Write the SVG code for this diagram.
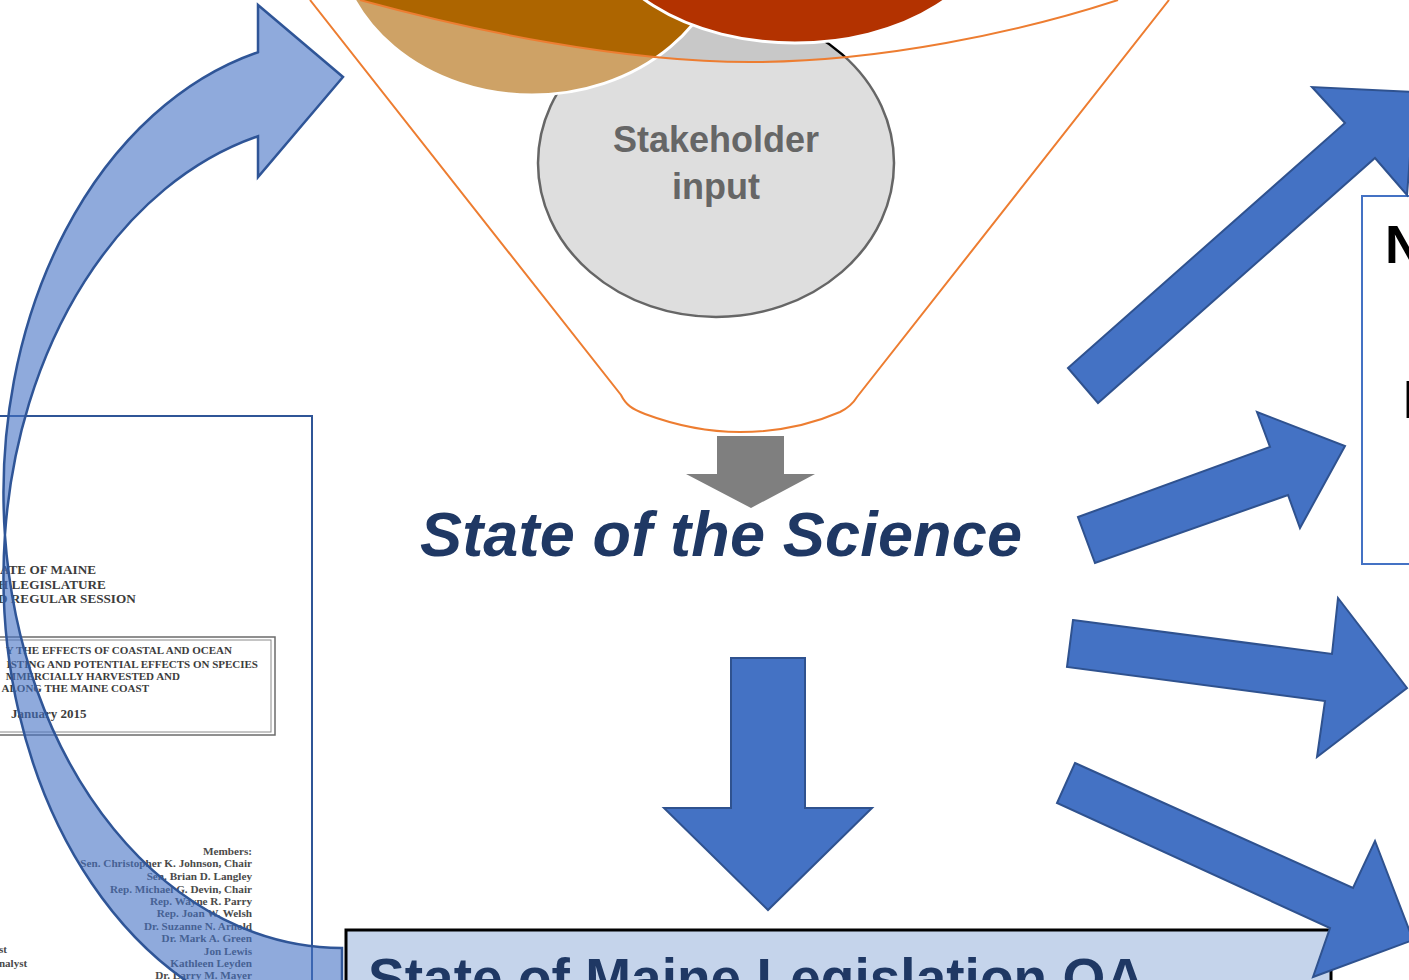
<svg xmlns="http://www.w3.org/2000/svg" width="1409" height="980" viewBox="0 0 1409 980">
<style>
.scan{font-family:"Liberation Serif","Times New Roman",serif;font-weight:bold;fill:#3c3c3c}
.blue{fill:#4472C4;stroke:#2F528F;stroke-width:2;stroke-linejoin:miter}
.funnel{fill:none;stroke:#ED7D31;stroke-width:2}
.sans{font-family:"Liberation Sans",Arial,sans-serif;font-weight:bold}
</style>
<rect width="1409" height="980" fill="#fff"/>

<g id="doc-cover">
<rect x="-5" y="416" width="317" height="580" fill="#fff" stroke="#2F5597" stroke-width="2"/>
<text class="scan" x="0" y="574" font-size="13.2">ATE OF MAINE</text>
<text class="scan" x="-2" y="589" font-size="13.2">H LEGISLATURE</text>
<text class="scan" x="-2" y="603" font-size="13.2">D REGULAR SESSION</text>
<rect x="-5" y="637" width="280" height="98" fill="none" stroke="#6b6b6b" stroke-width="1.5"/>
<rect x="-5" y="640" width="276" height="92" fill="none" stroke="#8a8a8a" stroke-width="1"/>
<g class="scan" font-size="11" text-anchor="end">
<text x="232" y="654">Y THE EFFECTS OF COASTAL AND OCEAN</text>
<text x="258" y="668">ISTING AND POTENTIAL EFFECTS ON SPECIES</text>
<text x="180" y="680">MMERCIALLY HARVESTED AND</text>
<text x="149" y="692">ALONG THE MAINE COAST</text>
</g>
<text class="scan" x="11" y="718" font-size="13">January 2015</text>
<g class="scan" font-size="11.2" text-anchor="end" style="fill:#4a4a4a">
<text x="252" y="855">Members:</text>
<text x="252" y="867">Sen. Christopher K. Johnson, Chair</text>
<text x="252" y="880">Sen. Brian D. Langley</text>
<text x="252" y="893">Rep. Michael G. Devin, Chair</text>
<text x="252" y="905">Rep. Wayne R. Parry</text>
<text x="252" y="917">Rep. Joan W. Welsh</text>
<text x="252" y="930">Dr. Suzanne N. Arnold</text>
<text x="252" y="942">Dr. Mark A. Green</text>
<text x="252" y="955">Jon Lewis</text>
<text x="252" y="967">Kathleen Leyden</text>
<text x="252" y="979">Dr. Larry M. Mayer</text>
</g>
<g class="scan" font-size="11" style="fill:#4a4a4a">
<text x="-1" y="953">st</text>
<text x="-1" y="967">nalyst</text>
</g>
</g>

<g id="circles">
<ellipse id="stakeholder-circle" cx="716" cy="163" rx="178" ry="154" fill="#C8C8C8" stroke="#000" stroke-width="2.5"/>
<ellipse cx="532" cy="-70" rx="196" ry="165" fill="#AD6500" stroke="#fff" stroke-width="3"/>
<ellipse cx="795" cy="-84" rx="200" ry="127" fill="#B33200" stroke="#fff" stroke-width="3"/>
</g>

<g id="funnel">
<path d="M310,0 L621,395 C626,405 632,409 645,414 C680,427 710,432 740,432 C775,432 810,425 840,412 C850,407 854,402 857,397 L1169,0 L1118,0 C1020,32 880,62 750,62 C620,62 470,30 360,0 Z" fill="#fff" fill-opacity="0.4"/>
<path class="funnel" d="M310,0 L621,395 C626,405 632,409 645,414 C680,427 710,432 740,432 C775,432 810,425 840,412 C850,407 854,402 857,397 L1169,0"/>
<path class="funnel" d="M360,0 C470,30 620,62 750,62 C880,62 1020,32 1118,0"/>
</g>

<g id="stakeholder-label">
<text class="sans" x="716" y="152" font-size="36" fill="#666" text-anchor="middle">Stakeholder</text>
<text class="sans" x="716" y="199" font-size="36" fill="#666" text-anchor="middle">input</text>
</g>

<g id="state-of-science">
<text class="sans" x="420" y="556" font-size="63" font-style="italic" fill="#1F3864" textLength="602">State of the Science</text>
</g>

<g id="legislation-box">
<rect x="346" y="930" width="985" height="70" fill="#C5D4EB" stroke="#000" stroke-width="3"/>
<text class="sans" x="368" y="997" font-size="55" fill="#1F3864" textLength="777">State of Maine Legislation OA</text>
</g>

<g id="right-box">
<rect x="1362" y="196" width="70" height="368" fill="#fff" stroke="#4472C4" stroke-width="2"/>
<text class="sans" x="1385" y="263" font-size="53" fill="#000">N</text>
<text class="sans" x="1403" y="418" font-size="53" fill="#000">I</text>
</g>

<g id="connectors">
<path d="M258,52.2 A338.5,455 0 0,0 4.94,535 A338.5,455 0 0,0 342,1032 L342,948 A338.5,455 0 0,1 4.94,535 A338.5,455 0 0,1 258,136.2 L258,177 L343,77 L258,5 Z" fill="#4472C4" fill-opacity="0.6" stroke="#2F5597" stroke-width="2.5" stroke-linejoin="miter"/>
<polygon points="717,436 784,436 784,474 815,474 751,508 686,474 717,474" fill="#7F7F7F"/>
<polygon class="blue" points="731,658 805,658 805,808 872,808 768,910 664,808 731,808"/>
<polygon class="blue" points="1068,368 1345,123 1312,87 1415,92 1407,195 1375,158 1098,403"/>
<polygon class="blue" points="1078,517 1270,447 1257,412 1345,446 1300,528 1288,495 1095,563"/>
<polygon class="blue" points="1073,620 1332,654 1338,598 1407,688 1317,757 1325,701 1067,667"/>
<polygon class="blue" points="1075,763 1353,888 1375,841 1413,940 1313,977 1330,928 1057,803"/>
</g>
</svg>
